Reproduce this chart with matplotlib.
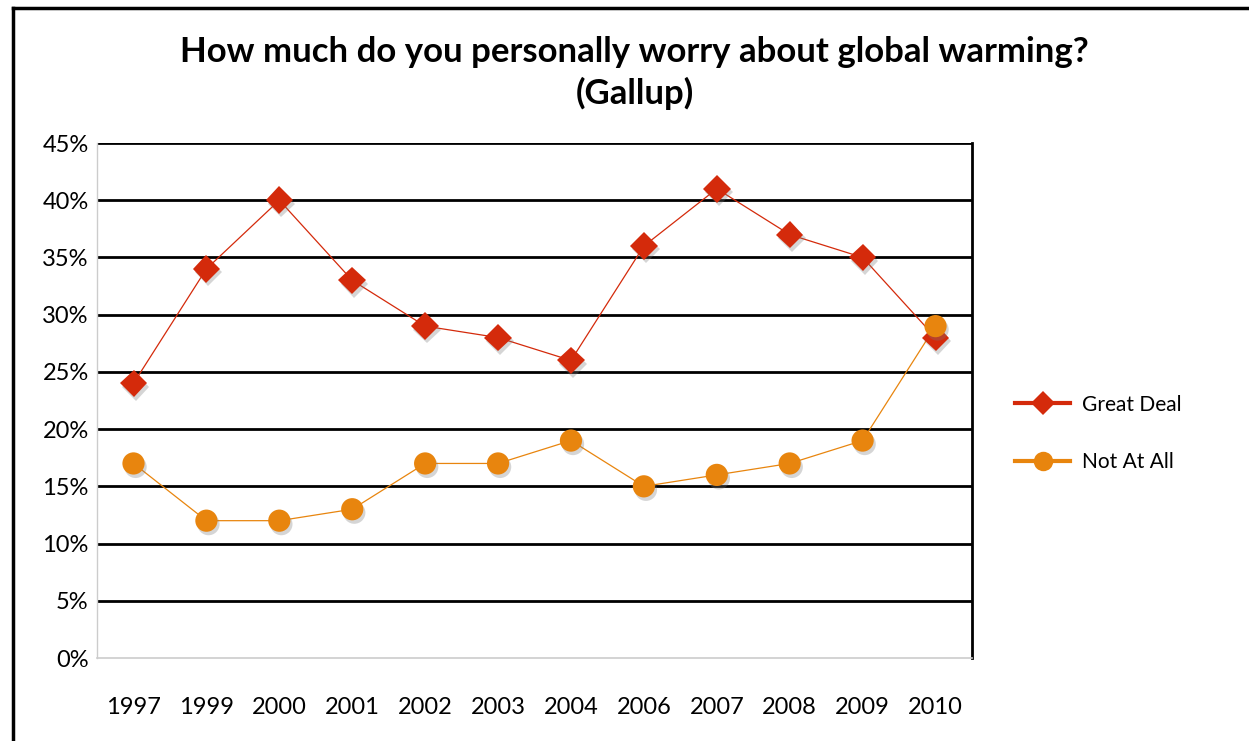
import matplotlib.pyplot as plt
from matplotlib.lines import Line2D
import matplotlib.patheffects as pe

years = ['1997', '1999', '2000', '2001', '2002', '2003', '2004', '2006', '2007', '2008', '2009', '2010']
great_deal = [24, 34, 40, 33, 29, 28, 26, 36, 41, 37, 35, 28]
not_at_all = [17, 12, 12, 13, 17, 17, 19, 15, 16, 17, 19, 29]
yticks = [0, 5, 10, 15, 20, 25, 30, 35, 40, 45]

red = '#D42A0B'
orange = '#E8850E'

plt.rcParams['font.family'] = ['Lato', 'DejaVu Sans']

fig = plt.figure(figsize=(12.49, 7.41), dpi=100)
ax = fig.add_axes([0.0777, 0.112, 0.7005, 0.695])

x = list(range(len(years)))
shadow = [pe.SimplePatchShadow(offset=(1.5, -2.5), shadow_rgbFace='#777777', alpha=0.3), pe.Normal()]

# lines first, then markers with a soft drop shadow
ax.plot(x, great_deal, color=red, lw=0.9, zorder=3)
ax.plot(x, not_at_all, color=orange, lw=0.9, zorder=3)
ax.plot(x, great_deal, ls='none', marker='D', ms=14, mfc=red, mec=red, mew=0,
        zorder=4, path_effects=shadow)
ax.plot(x, not_at_all, ls='none', marker='o', ms=16, mfc=orange, mec=orange, mew=0,
        zorder=5, path_effects=shadow)

ax.set_xlim(-0.5, len(years) - 0.5)
ax.set_ylim(0, 45)
ax.set_xticks(x)
ax.set_xticklabels(years)
ax.set_yticks(yticks)
ax.set_yticklabels(['{}%'.format(v) for v in yticks])
ax.tick_params(axis='both', length=0, labelsize=17, colors='black')
ax.tick_params(axis='x', pad=28)
ax.tick_params(axis='y', pad=6)

for v in yticks[1:]:
    ax.axhline(v, color='black', lw=2, zorder=2)

ax.spines['top'].set_visible(False)
ax.spines['left'].set_color('#cccccc')
ax.spines['left'].set_linewidth(1)
ax.spines['bottom'].set_color('#cccccc')
ax.spines['bottom'].set_linewidth(1.2)
ax.spines['right'].set_color('black')
ax.spines['right'].set_linewidth(2)

fig.text(0.508, 1 - 52 / 741, 'How much do you personally worry about global warming?',
         ha='center', va='center', fontsize=25, fontweight='bold')
fig.text(0.508, 1 - 93 / 741, '(Gallup)',
         ha='center', va='center', fontsize=25, fontweight='bold')

handles = [Line2D([], [], color=red, lw=3, marker='D', ms=12, mew=0),
           Line2D([], [], color=orange, lw=3, marker='o', ms=14, mew=0)]
fig.legend(handles, ['Great Deal', 'Not At All'], loc='center left',
           bbox_to_anchor=(0.798, 0.415), frameon=False,
           fontsize=15, handlelength=2.6, labelspacing=1.8, handletextpad=0.6)

# outer frame
fig.add_artist(Line2D([13 / 1249, 13 / 1249], [0, 1 - 8 / 741], color='black', lw=2.5))
fig.add_artist(Line2D([13 / 1249, 1], [1 - 8 / 741, 1 - 8 / 741], color='black', lw=2.5))

fig.savefig('out.png', dpi=100)
